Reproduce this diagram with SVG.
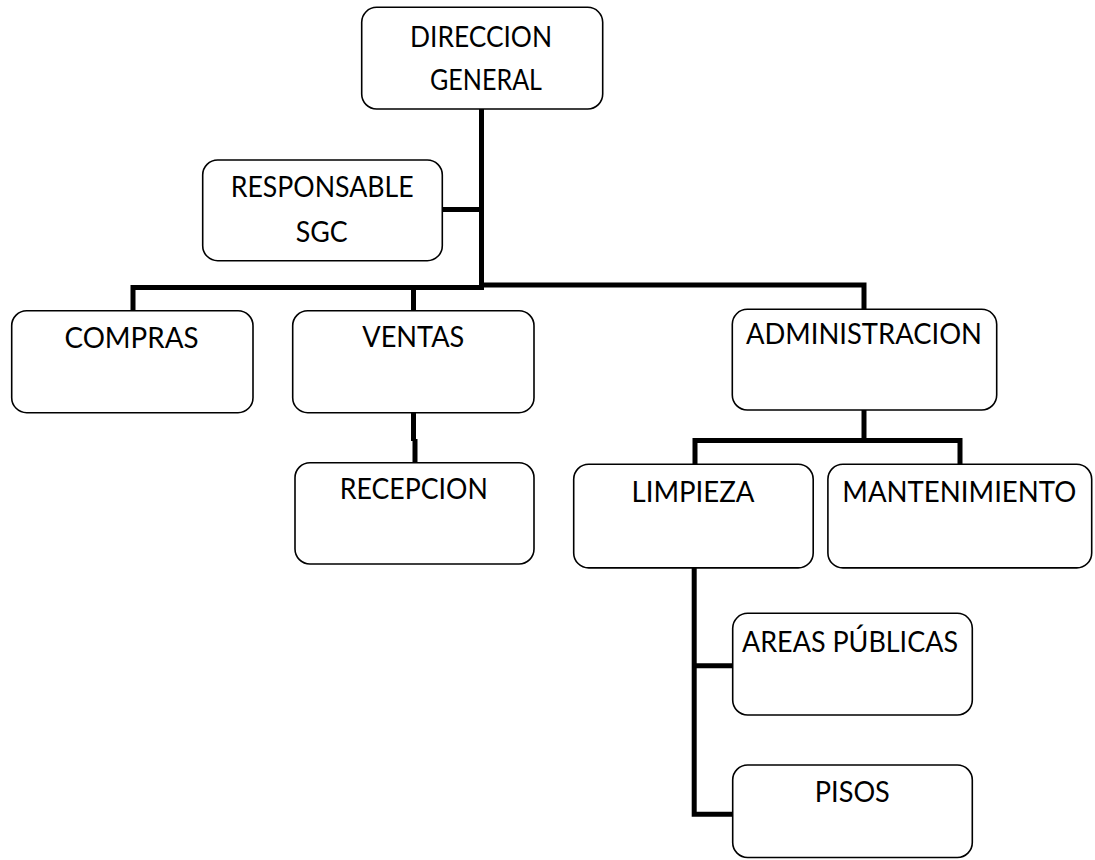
<svg xmlns="http://www.w3.org/2000/svg" width="1095" height="860" viewBox="0 0 1095 860">
<style>
.box{fill:#fff;stroke:#000;stroke-width:1.6}
.lbl{font-family:Lato,"Open Sans","Liberation Sans",sans-serif;font-size:28px;font-weight:400;fill:#000;text-anchor:middle}
.con{fill:none;stroke:#000;stroke-width:5;stroke-linejoin:miter;stroke-linecap:butt}
</style>
<rect width="1095" height="860" fill="#fff"/>
<g id="connectors">
<path class="con" d="M481.5,109 V290"/>
<path class="con" d="M442,209.5 H481.5"/>
<path class="con" d="M133,311 V287.5 H484"/>
<path class="con" d="M413.5,287.5 V311"/>
<path class="con" d="M481.5,285 H864 V309.5"/>
<path class="con" d="M413.5,412 V441"/>
<path class="con" d="M415,439 V463"/>
<path class="con" d="M864,410 V440.5"/>
<path class="con" d="M695,464.5 V440.5 H960 V464.5"/>
<path class="con" d="M694.2,567.5 V814.2 H733"/>
<path class="con" d="M694.2,665.8 H733"/>
</g>
<g id="direccion-general">
<rect class="box" x="361.7" y="7.3" width="241" height="101.7" rx="15"/>
<text class="lbl" x="481" y="46.7" textLength="142" lengthAdjust="spacingAndGlyphs">DIRECCION</text>
<text class="lbl" x="486" y="90" textLength="112" lengthAdjust="spacingAndGlyphs">GENERAL</text>
</g>
<g id="responsable-sgc">
<rect class="box" x="202.7" y="160" width="239.6" height="100.7" rx="15"/>
<text class="lbl" x="322.2" y="196.7" textLength="183" lengthAdjust="spacingAndGlyphs">RESPONSABLE</text>
<text class="lbl" x="321.7" y="241.7" textLength="52" lengthAdjust="spacingAndGlyphs">SGC</text>
</g>
<g id="compras">
<rect class="box" x="11.7" y="310.7" width="241.3" height="102" rx="15"/>
<text class="lbl" x="131.5" y="348.3" textLength="134" lengthAdjust="spacingAndGlyphs">COMPRAS</text>
</g>
<g id="ventas">
<rect class="box" x="292.7" y="310.7" width="241.3" height="102" rx="15"/>
<text class="lbl" x="413.3" y="346.7" textLength="102" lengthAdjust="spacingAndGlyphs">VENTAS</text>
</g>
<g id="administracion">
<rect class="box" x="732.3" y="309.3" width="264.4" height="100.7" rx="15"/>
<text class="lbl" x="864" y="344" textLength="236" lengthAdjust="spacingAndGlyphs">ADMINISTRACION</text>
</g>
<g id="recepcion">
<rect class="box" x="295" y="462.7" width="239" height="101.3" rx="15"/>
<text class="lbl" x="413.8" y="499.3" textLength="148" lengthAdjust="spacingAndGlyphs">RECEPCION</text>
</g>
<g id="limpieza">
<rect class="box" x="573.7" y="464.2" width="239.5" height="103.7" rx="15"/>
<text class="lbl" x="693" y="501.7" textLength="123" lengthAdjust="spacingAndGlyphs">LIMPIEZA</text>
</g>
<g id="mantenimiento">
<rect class="box" x="827.9" y="464.2" width="263.8" height="103.7" rx="15"/>
<text class="lbl" x="959.3" y="501.7" textLength="234" lengthAdjust="spacingAndGlyphs">MANTENIMIENTO</text>
</g>
<g id="areas-publicas">
<rect class="box" x="732.7" y="613.3" width="239.6" height="101.7" rx="15"/>
<text class="lbl" x="850" y="651.7" textLength="216" lengthAdjust="spacingAndGlyphs">AREAS PÚBLICAS</text>
</g>
<g id="pisos">
<rect class="box" x="732.7" y="765" width="239.6" height="92.5" rx="15"/>
<text class="lbl" x="852.3" y="801.7" textLength="75" lengthAdjust="spacingAndGlyphs">PISOS</text>
</g>
</svg>
